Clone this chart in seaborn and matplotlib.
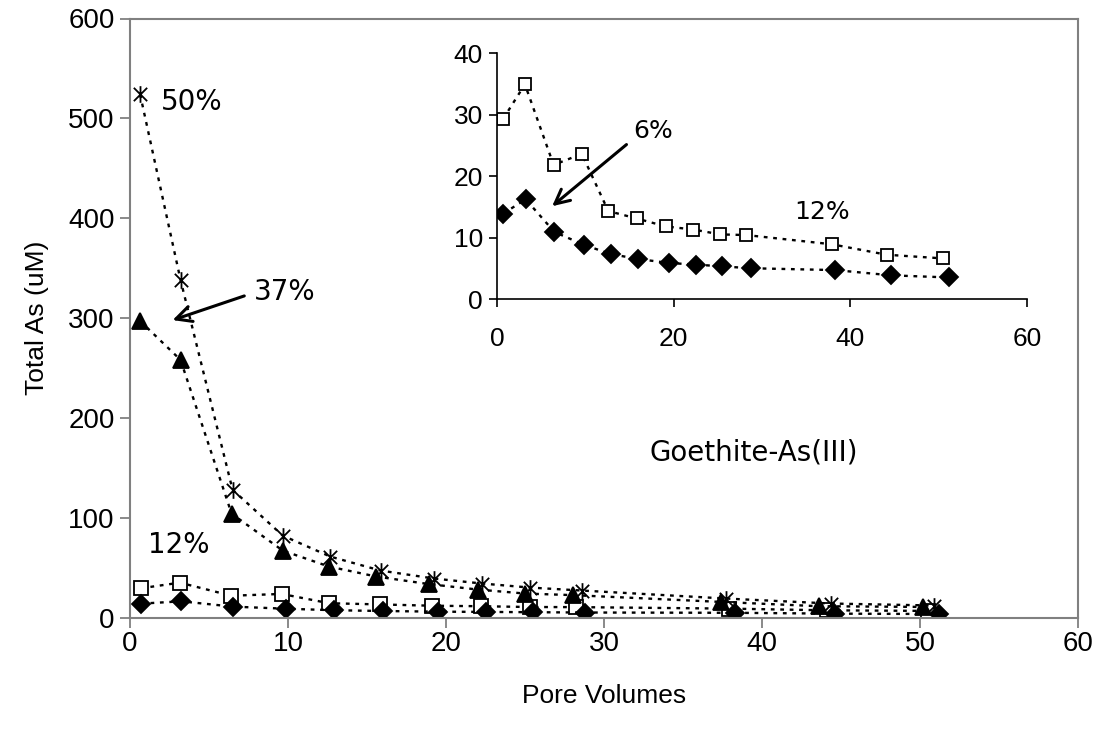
import matplotlib
matplotlib.use("Agg")
import matplotlib.pyplot as plt
from matplotlib.path import Path
import seaborn as sns
import pandas as pd

# ---- data ----
pv_50 = [0.64, 3.2, 6.49, 9.67, 12.68, 15.86, 19.26, 22.3, 25.3, 28.6, 37.7, 44.35, 50.9]
as_50 = [524, 338, 128, 82, 61, 47, 39, 34, 30, 27, 19, 14, 12]
pv_37 = [0.64, 3.2, 6.43, 9.67, 12.6, 15.6, 18.9, 22.0, 25.0, 28.06, 37.4, 43.6, 50.2]
as_37 = [297, 258, 104, 67, 51, 41, 33.5, 28, 24, 22.4, 15.6, 11.3, 10.6]
pv_12 = [0.7, 3.16, 6.41, 9.6, 12.6, 15.8, 19.1, 22.2, 25.3, 28.2, 37.9, 44.1, 50.5]
as_12 = [29.3, 34.9, 21.8, 23.6, 14.3, 13.1, 11.8, 11.3, 10.5, 10.4, 8.9, 7.2, 6.6]
pv_6 = [0.7, 3.25, 6.5, 9.85, 12.9, 16.0, 19.5, 22.5, 25.5, 28.8, 38.3, 44.6, 51.2]
as_6 = [13.9, 16.2, 10.9, 8.8, 7.3, 6.5, 5.85, 5.6, 5.3, 5.0, 4.7, 3.85, 3.5]

main_xticks = [0, 10, 20, 30, 40, 50, 60]
main_yticks = [0, 100, 200, 300, 400, 500, 600]
inset_xticks = [0, 20, 40, 60]
inset_yticks = [0, 10, 20, 30, 40]

sns.set_theme(style="white")
plt.rcParams['font.family'] = ['Liberation Sans', 'DejaVu Sans']
plt.rcParams['text.color'] = 'black'
plt.rcParams['axes.labelcolor'] = 'black'
plt.rcParams['xtick.color'] = 'black'
plt.rcParams['ytick.color'] = 'black'

# Excel-style asterisk: X plus vertical bar
ASTER = Path([(-1, -1), (1, 1), (-1, 1), (1, -1), (0, -1.25), (0, 1.25)],
             [Path.MOVETO, Path.LINETO, Path.MOVETO, Path.LINETO, Path.MOVETO, Path.LINETO])

fig = plt.figure(figsize=(10.99, 7.38), dpi=100)
ax = fig.add_axes([130/1099, 1-617.5/738, (1078-130)/1099, (617.5-18.5)/738])

DOT = (0, (1.6, 2.4))
LW = 1.7

def draw(a, x, y, marker, ms, fc, mew=1.3):
    df = pd.DataFrame({"x": x, "y": y})
    sns.lineplot(data=df, x="x", y="y", ax=a, color="black", sort=False,
                 estimator=None, linestyle=DOT, linewidth=LW,
                 marker=marker, markersize=ms, markerfacecolor=fc,
                 markeredgecolor="black", markeredgewidth=mew)

draw(ax, pv_12, as_12, 's', 10, 'white')
draw(ax, pv_6, as_6, 'D', 9, 'black')
draw(ax, pv_37, as_37, '^', 12, 'black')
draw(ax, pv_50, as_50, ASTER, 12, 'none', 1.3)

ax.set_xlim(0, 60)
ax.set_ylim(0, 600)
ax.set_xticks(main_xticks)
ax.set_yticks(main_yticks)
ax.tick_params(axis='both', direction='out', length=7, width=1.3, color='#808080',
               labelsize=20, labelcolor='black', left=True, bottom=True)
ax.tick_params(axis='y', pad=4)
ax.tick_params(axis='x', pad=3)
for s in ax.spines.values():
    s.set_color('#808080')
    s.set_linewidth(1.5)
ax.set_xlabel("Pore Volumes", fontsize=19, labelpad=19)
ax.set_ylabel("Total As (uM)", fontsize=19, labelpad=14)

ax.text(3.9, 516, "50%", fontsize=20, ha='center', va='center', family=['DejaVu Sans'])
ax.text(9.8, 326, "37%", fontsize=20, ha='center', va='center', family=['DejaVu Sans'])
ax.text(3.08, 72.6, "12%", fontsize=20, ha='center', va='center', family=['DejaVu Sans'])
ax.annotate("", xy=(2.53, 297), xytext=(7.4, 323),
            arrowprops=dict(arrowstyle='->', color='black', lw=2.2, mutation_scale=28))

# ---- inset ----
ia = fig.add_axes([497/1099, 1-299/738, 530/1099, 246/738])
ia.patch.set_alpha(0)
draw(ia, pv_12, as_12, 's', 9, 'white')
draw(ia, pv_6, as_6, 'D', 9, 'black')
ia.set_xlim(0, 60)
ia.set_ylim(0, 40)
ia.set_xticks(inset_xticks)
ia.set_yticks(inset_yticks)
ia.set_xlabel("")
ia.set_ylabel("")
ia.tick_params(axis='both', direction='out', length=6, width=1.2, color='black',
               labelsize=19, labelcolor='black', left=True, bottom=True)
ia.tick_params(axis='y', pad=4)
ia.tick_params(axis='x', pad=14)
for k in ['top', 'right']:
    ia.spines[k].set_visible(False)
for k in ['left', 'bottom']:
    ia.spines[k].set_color('black')
    ia.spines[k].set_linewidth(1.2)
ia.text(17.7, 27.3, "6%", fontsize=18, ha='center', va='center', family=['DejaVu Sans'])
ia.text(36.8, 14.2, "12%", fontsize=18, ha='center', va='center', family=['DejaVu Sans'])
ia.annotate("", xy=(6.0, 14.8), xytext=(14.9, 25.4),
            arrowprops=dict(arrowstyle='->', color='black', lw=2.2, mutation_scale=26))

fig.text(754/1099, 1-453/738, "Goethite-As(III)", fontsize=20, ha='center', va='center',
         family=['DejaVu Sans'])

fig.savefig("out.png", dpi=100)
